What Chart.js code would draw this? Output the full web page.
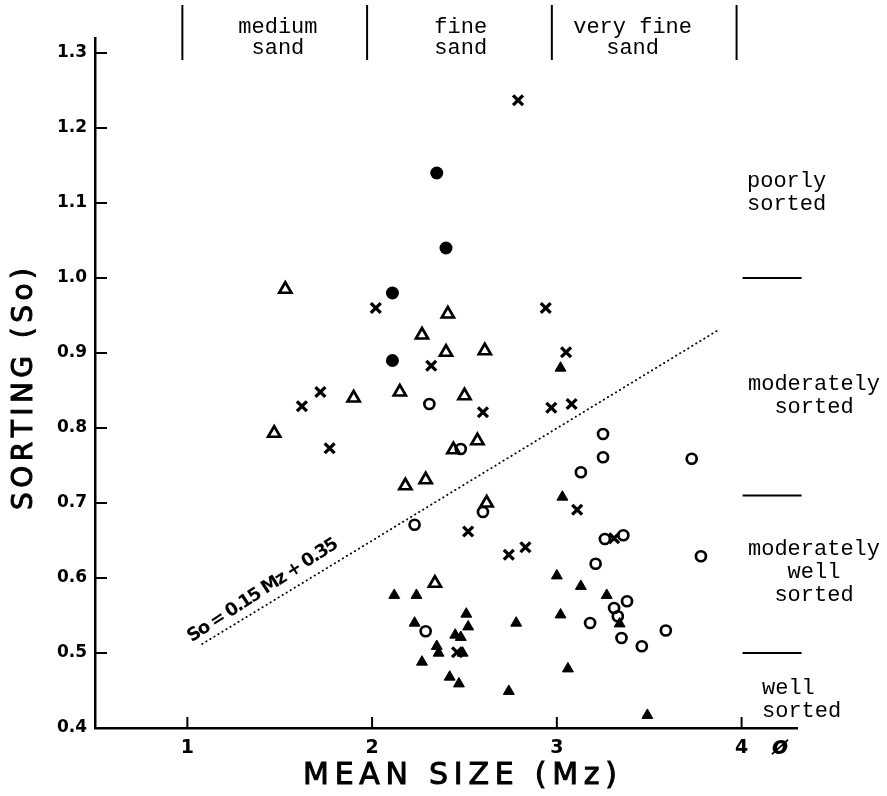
<!DOCTYPE html>
<html>
<head>
<meta charset="utf-8">
<script src="https://cdn.jsdelivr.net/npm/chart.js@4.4.1/dist/chart.umd.min.js"></script>
<style>
  html, body { margin: 0; padding: 0; background: #fff; }
</style>
</head>
<body>
<canvas id="sortChart" width="887" height="796"></canvas>
<script>
// Mean size (Mz, phi) vs sorting (So)
const filledCircles = [
  {x: 2.35, y: 1.14}, {x: 2.40, y: 1.04}, {x: 2.11, y: 0.98}, {x: 2.11, y: 0.89}
];
const openTriangles = [
  {x: 1.53, y: 0.985}, {x: 2.41, y: 0.952}, {x: 2.27, y: 0.924}, {x: 2.40, y: 0.901},
  {x: 2.61, y: 0.903}, {x: 1.90, y: 0.840}, {x: 2.15, y: 0.848}, {x: 2.50, y: 0.843},
  {x: 1.47, y: 0.793}, {x: 2.57, y: 0.783}, {x: 2.44, y: 0.771}, {x: 2.18, y: 0.723},
  {x: 2.29, y: 0.731}, {x: 2.62, y: 0.700}, {x: 2.34, y: 0.593}
];
const crosses = [
  {x: 2.79, y: 1.237}, {x: 2.02, y: 0.960}, {x: 2.94, y: 0.960}, {x: 2.32, y: 0.883},
  {x: 3.05, y: 0.901}, {x: 1.72, y: 0.848}, {x: 1.62, y: 0.829}, {x: 2.60, y: 0.821},
  {x: 2.97, y: 0.827}, {x: 3.08, y: 0.832}, {x: 1.77, y: 0.773}, {x: 3.11, y: 0.691},
  {x: 2.52, y: 0.662}, {x: 2.74, y: 0.631}, {x: 2.83, y: 0.641}, {x: 3.31, y: 0.653},
  {x: 2.46, y: 0.501}
];
const openCircles = [
  {x: 2.31, y: 0.832}, {x: 2.48, y: 0.772}, {x: 2.60, y: 0.688}, {x: 2.23, y: 0.671},
  {x: 3.25, y: 0.792}, {x: 3.25, y: 0.761}, {x: 3.13, y: 0.741}, {x: 3.73, y: 0.759},
  {x: 3.26, y: 0.652}, {x: 3.36, y: 0.657}, {x: 3.21, y: 0.619}, {x: 3.78, y: 0.629},
  {x: 3.38, y: 0.569}, {x: 3.31, y: 0.560}, {x: 3.33, y: 0.549}, {x: 3.18, y: 0.540},
  {x: 3.59, y: 0.530}, {x: 3.35, y: 0.520}, {x: 3.46, y: 0.509}, {x: 2.29, y: 0.529}
];
const filledTriangles = [
  {x: 3.02, y: 0.880}, {x: 3.03, y: 0.708}, {x: 2.12, y: 0.577}, {x: 2.24, y: 0.577},
  {x: 2.23, y: 0.540}, {x: 2.51, y: 0.552}, {x: 2.52, y: 0.535}, {x: 2.45, y: 0.524},
  {x: 2.48, y: 0.521}, {x: 2.35, y: 0.509}, {x: 2.36, y: 0.500}, {x: 2.49, y: 0.500},
  {x: 2.27, y: 0.488}, {x: 2.42, y: 0.468}, {x: 2.47, y: 0.459}, {x: 3.00, y: 0.603},
  {x: 3.13, y: 0.589}, {x: 3.27, y: 0.577}, {x: 3.34, y: 0.539}, {x: 3.02, y: 0.551},
  {x: 2.78, y: 0.540}, {x: 3.06, y: 0.479}, {x: 2.74, y: 0.449}, {x: 3.49, y: 0.417}
];
// dotted trend line So = 0.15 Mz + 0.35, ends as drawn
const trendLine = [{x: 1.08, y: 0.512}, {x: 3.87, y: 0.93}];
const trendLabel = 'So = 0.15 Mz + 0.35';

// grain size classes (phi boundaries) and sorting classes (So boundaries)
const sizeBounds = [1, 2, 3, 4];
const sizeLabels = [['medium', 'sand'], ['fine', 'sand'], ['very fine', 'sand']];
const sortBounds = [1.0, 0.71, 0.5];
const sortLabels = [['poorly', 'sorted'], ['moderately', 'sorted'], ['moderately', 'well', 'sorted'], ['well', 'sorted']];

// draw text spread to a given width (letter spaced), optional outline for weight
function spacedText(ctx, str, cx, cy, width, outline) {
  const chars = str.split('');
  const widths = chars.map(c => ctx.measureText(c).width);
  const natural = widths.reduce((a, b) => a + b, 0);
  const gap = (width - natural) / (chars.length - 1);
  let x = cx - width / 2;
  ctx.textAlign = 'left';
  chars.forEach((c, i) => {
    ctx.fillText(c, x, cy);
    if (outline) ctx.strokeText(c, x, cy);
    x += widths[i] + gap;
  });
}

const annotations = {
  id: 'annotations',
  afterDraw(chart) {
    const ctx = chart.ctx;
    const xs = chart.scales.x;
    const ys = chart.scales.y;
    const left = chart.chartArea.left;
    const bottom = chart.chartArea.bottom;
    ctx.save();
    ctx.strokeStyle = '#000';
    ctx.fillStyle = '#000';

    // inward tick marks
    ctx.lineWidth = 2;
    ys.ticks.forEach(t => {
      if (t.value <= ys.min + 1e-6) return;
      const y = ys.getPixelForValue(t.value);
      ctx.beginPath(); ctx.moveTo(left, y); ctx.lineTo(left + 12, y); ctx.stroke();
    });
    xs.ticks.forEach(t => {
      const x = xs.getPixelForValue(t.value);
      ctx.beginPath(); ctx.moveTo(x, bottom); ctx.lineTo(x, bottom - 11); ctx.stroke();
    });

    // size class dividers along the top
    ctx.lineWidth = 2;
    sizeBounds.forEach(b => {
      const x = xs.getPixelForValue(b) - 5;
      ctx.beginPath(); ctx.moveTo(x, 5); ctx.lineTo(x, 60); ctx.stroke();
    });
    ctx.font = '22px "Liberation Mono", monospace';
    ctx.textAlign = 'center';
    ctx.textBaseline = 'alphabetic';
    const sizeCenters = [1.49, 2.48, 3.41];
    sizeLabels.forEach((lines, i) => {
      const cx = xs.getPixelForValue(sizeCenters[i]);
      lines.forEach((s, j) => ctx.fillText(s, cx, 33 + j * 21));
    });

    // sorting class dashes on the right
    ctx.lineWidth = 2;
    const x4 = xs.getPixelForValue(4);
    sortBounds.forEach(b => {
      const y = ys.getPixelForValue(b);
      ctx.beginPath(); ctx.moveTo(x4 + 1, y); ctx.lineTo(x4 + 60, y); ctx.stroke();
    });
    const sortPos = [
      {v: 1.115, align: 'left', x: 747},
      {v: 0.845, align: 'center', x: 814},
      {v: 0.61, align: 'center', x: 814},
      {v: 0.44, align: 'left', x: 762}
    ];
    sortLabels.forEach((lines, i) => {
      const p = sortPos[i];
      const yc = ys.getPixelForValue(p.v);
      ctx.textAlign = p.align;
      const top = yc - (lines.length - 1) * 23 / 2;
      lines.forEach((s, j) => ctx.fillText(s, p.x, top + j * 23 + 7));
    });

    // axis titles (regular face with a thin outline, for a medium weight)
    ctx.textBaseline = 'middle';
    ctx.lineWidth = 1;
    ctx.font = '30px "DejaVu Sans", sans-serif';
    spacedText(ctx, 'MEAN SIZE (Mz)', 460, 776, 314, true);
    ctx.save();
    ctx.translate(25, 389);
    ctx.rotate(-Math.PI / 2);
    ctx.font = '28px "DejaVu Sans", sans-serif';
    spacedText(ctx, 'SORTING (So)', 0, 0, 242, true);
    ctx.restore();

    // phi unit next to last x tick
    ctx.font = 'italic bold 24px "DejaVu Sans", sans-serif';
    ctx.textAlign = 'center';
    ctx.fillText('ø', 780, 748);

    // trend line label
    ctx.save();
    ctx.translate(xs.getPixelForValue(1.03), ys.getPixelForValue(0.512));
    ctx.rotate(-33 * Math.PI / 180);
    ctx.font = 'bold 18px "DejaVu Sans", sans-serif';
    ctx.textBaseline = 'alphabetic';
    spacedText(ctx, trendLabel, 88, -2, 176, false);
    ctx.restore();

    ctx.restore();
  }
};

const ctx = document.getElementById('sortChart').getContext('2d');
new Chart(ctx, {
  type: 'scatter',
  data: {
    datasets: [
      {
        type: 'line', data: trendLine, borderColor: '#000', borderWidth: 1.8,
        borderDash: [0.5, 4.2], borderCapStyle: 'round', pointRadius: 0, fill: false
      },
      { data: filledCircles, pointStyle: 'circle', pointRadius: 6.5, backgroundColor: '#000', borderWidth: 0 },
      { data: openTriangles, pointStyle: 'triangle', pointRadius: 7, backgroundColor: 'rgba(0,0,0,0)', borderColor: '#000', borderWidth: 2.7 },
      { data: crosses, pointStyle: 'crossRot', pointRadius: 7, borderColor: '#000', borderWidth: 3.3 },
      { data: openCircles, pointStyle: 'circle', pointRadius: 5, backgroundColor: 'rgba(0,0,0,0)', borderColor: '#000', borderWidth: 2.7 },
      { data: filledTriangles, pointStyle: 'triangle', pointRadius: 6.3, backgroundColor: '#000', borderColor: '#000', borderWidth: 1 }
    ]
  },
  options: {
    responsive: false,
    animation: false,
    layout: { padding: { top: 38, right: 90, left: 0, bottom: 0 } },
    plugins: { legend: { display: false }, tooltip: { enabled: false } },
    scales: {
      x: {
        type: 'linear', min: 0.5, max: 4.3,
        grid: { display: false, drawTicks: false },
        border: { display: true, color: '#000', width: 2.5 },
        ticks: {
          stepSize: 1, includeBounds: false, padding: 9, color: '#000',
          font: { family: '"DejaVu Sans", sans-serif', size: 19, weight: 'bold' }
        },
        afterFit: s => { s.height = 68; }
      },
      y: {
        min: 0.4, max: 1.32,
        grid: { display: false, drawTicks: false },
        border: { display: true, color: '#000', width: 2.5 },
        ticks: {
          stepSize: 0.1, includeBounds: false, padding: 8, color: '#000',
          font: { family: '"DejaVu Sans", sans-serif', size: 17, weight: 'bold' },
          callback: v => v.toFixed(1)
        },
        afterFit: s => { s.width = 95; }
      }
    }
  },
  plugins: [annotations]
});
</script>
</body>
</html>
